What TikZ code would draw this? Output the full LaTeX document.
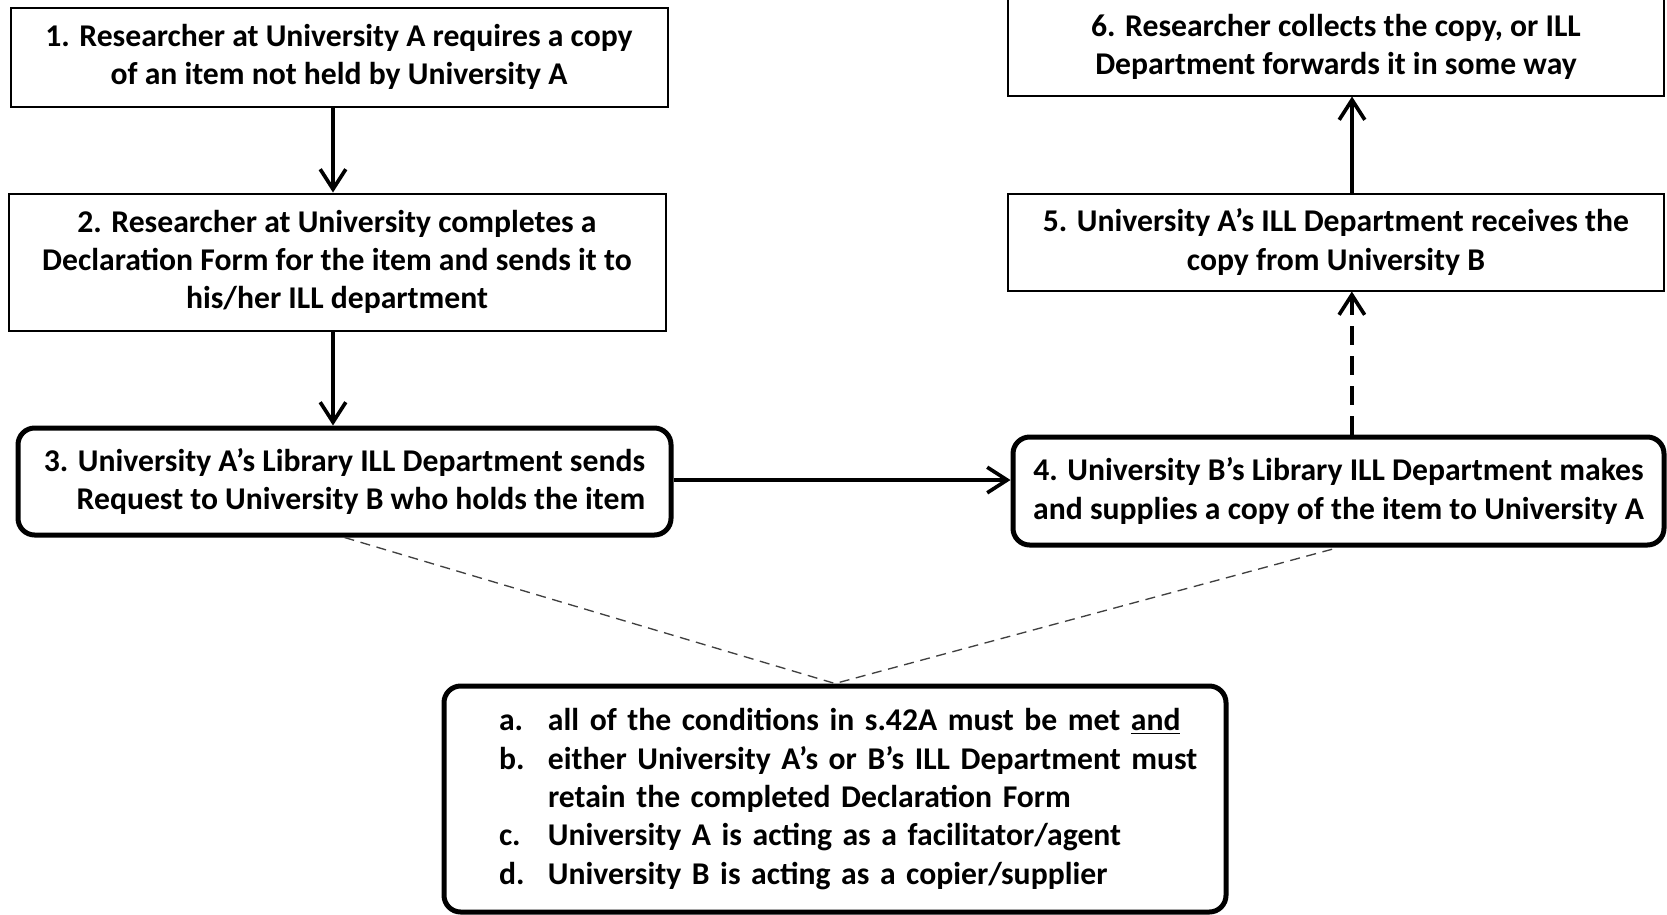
\documentclass[tikz,border=0pt]{standalone}
\usepackage{fontspec}
\setmainfont{Carlito}
\usetikzlibrary{arrows.meta, positioning, calc}

\begin{document}
\begin{tikzpicture}[
    x=0.6pt, y=-0.6pt,
    font=\fontsize{19}{23}\selectfont\bfseries,
    plainbox/.style={rectangle, draw=black, line width=1.2pt, fill=white, align=center, inner sep=0pt},
    roundbox/.style={rectangle, draw=black, line width=3pt, fill=white, rounded corners=10pt, inner sep=0pt},
    arrow/.style={-{Straight Barb[length=4.2mm, width=5.4mm, line width=2.2pt]}, line width=2.4pt, color=black},
    dashline/.style={dashed, line width=0.8pt, color=black!75, dash pattern=on 6pt off 4pt}
]
    \useasboundingbox (0,0) rectangle (1667,914);

    % left column
    \node[plainbox, minimum width=394.2pt, minimum height=59.4pt] (request) at (339,57)
        {1. Researcher at University A requires a copy\\of an item not held by University A};
    \node[plainbox, minimum width=394.2pt, minimum height=82.2pt] (declare) at (337,262)
        {2. Researcher at University completes a\\Declaration Form for the item and sends it to\\his/her ILL department};
    \node[roundbox, align=right, minimum width=391.8pt, minimum height=64.2pt] (sendreq) at (344.5,481.5)
        {3. University A's Library ILL Department sends\\Request to University B who holds the item};

    % right column
    \node[roundbox, align=center, minimum width=390.6pt, minimum height=64.8pt] (supply) at (1338.5,491)
        {4. University B's Library ILL Department makes\\and supplies a copy of the item to University A};
    \node[plainbox, minimum width=393.6pt, minimum height=58.2pt] (receive) at (1336,242)
        {5. University A's ILL Department receives the\\copy from University B};
    \node[plainbox, minimum width=393.6pt, minimum height=58.2pt] (collect) at (1336,47)
        {6. Researcher collects the copy, or ILL\\Department forwards it in some way};

    % conditions
    \node[roundbox, align=left, minimum width=469.2pt, minimum height=135.6pt,
          text width=469.2pt] (notes) at (835,799)
        {\hspace*{33pt}\makebox[29.4pt][l]{a.}all of the conditions in s.42A must be met \underline{and}\\
         \hspace*{33pt}\makebox[29.4pt][l]{b.}either University A's or B's ILL Department must\\
         \hspace*{33pt}\makebox[29.4pt][l]{}retain the completed Declaration Form\\
         \hspace*{33pt}\makebox[29.4pt][l]{c.}University A is acting as a facilitator/agent\\
         \hspace*{33pt}\makebox[29.4pt][l]{d.}University B is acting as a copier/supplier};

    \draw[arrow] ([xshift=-3.6pt]request.south) -- ([xshift=-3.6pt]request.south |- declare.north);
    \draw[arrow] ([xshift=-2.4pt]declare.south) -- ([xshift=-2.4pt]declare.south |- sendreq.north);
    \draw[arrow] ([yshift=0.9pt]sendreq.east) -- ([yshift=0.9pt]sendreq.east -| supply.west);
    \draw[arrow, dashed, dash pattern=on 11pt off 7pt] ([xshift=8pt]supply.north) -- ([xshift=8pt]supply.north |- receive.south);
    \draw[arrow] ([xshift=9.6pt]receive.north) -- ([xshift=9.6pt]receive.north |- collect.south);

    \draw[dashline] (sendreq.south) -- (notes.north) -- (supply.south);

\end{tikzpicture}
\end{document}
